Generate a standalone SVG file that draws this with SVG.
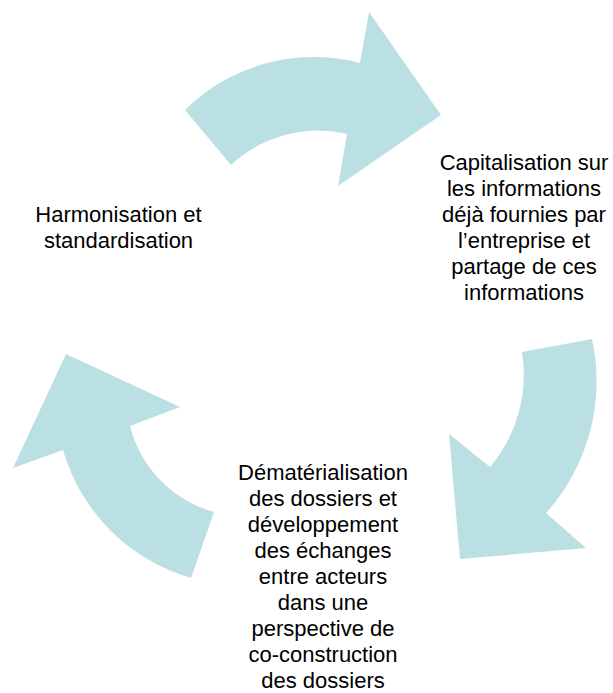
<svg xmlns="http://www.w3.org/2000/svg" width="613" height="693" viewBox="0 0 613 693">
<style>
.arrow{fill:#BBE0E3;stroke:none}
.lbl{font-family:"Liberation Sans",Arial,sans-serif;font-size:22px;fill:#000;text-anchor:middle}
</style>
<rect width="613" height="693" fill="#fff"/>
<g id="connectors">
<path id="arrow-top" class="arrow" d="M 231,165 L 185,110 A 183 183 0 0 1 360,63 L 369,12 L 441,115 L 338,186 L 347,134 A 127 127 0 0 0 231,165 Z"/>
<path id="arrow-right" class="arrow" d="M 522,352 L 592,339 A 197 197 0 0 1 546,513 L 586,548 L 460,559 L 449,434 L 490,467 A 143 143 0 0 0 522,352 Z"/>
<path id="arrow-left" class="arrow" d="M 214,512 L 191,578 A 187 187 0 0 1 63,450 L 13,468 L 66,354 L 180,407 L 130,426 A 120 120 0 0 0 214,512 Z"/>
</g>
<g id="node-harmonisation">
<text class="lbl" x="118.5" y="222">Harmonisation et</text>
<text class="lbl" x="118.5" y="248">standardisation</text>
</g>
<g id="node-capitalisation">
<text class="lbl" x="524" y="170">Capitalisation sur</text>
<text class="lbl" x="524" y="196">les informations</text>
<text class="lbl" x="524" y="222">déjà fournies par</text>
<text class="lbl" x="524" y="248">l’entreprise et</text>
<text class="lbl" x="524" y="274">partage de ces</text>
<text class="lbl" x="524" y="300">informations</text>
</g>
<g id="node-dematerialisation">
<text class="lbl" x="323" y="480">Dématérialisation</text>
<text class="lbl" x="323" y="506">des dossiers et</text>
<text class="lbl" x="323" y="532">développement</text>
<text class="lbl" x="323" y="558">des échanges</text>
<text class="lbl" x="323" y="584">entre acteurs</text>
<text class="lbl" x="323" y="610">dans une</text>
<text class="lbl" x="323" y="636">perspective de</text>
<text class="lbl" x="323" y="662">co-construction</text>
<text class="lbl" x="323" y="688">des dossiers</text>
</g>
</svg>
